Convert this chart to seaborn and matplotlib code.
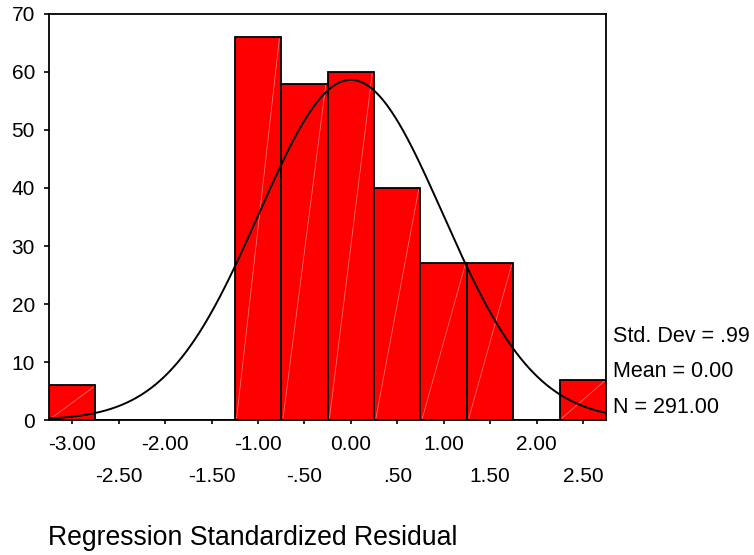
import numpy as np
import pandas as pd
import matplotlib
matplotlib.use("Agg")
import matplotlib.pyplot as plt
import seaborn as sns

# Data
bin_centers = [-3.0, -2.5, -2.0, -1.5, -1.0, -0.5, 0.0, 0.5, 1.0, 1.5, 2.0, 2.5]
counts = [6, 0, 0, 0, 66, 58, 60, 40, 27, 27, 0, 7]
tick_values = [-3.0, -2.5, -2.0, -1.5, -1.0, -0.5, 0.0, 0.5, 1.0, 1.5, 2.0, 2.5]
tick_labels = ["-3.00", "-2.50", "-2.00", "-1.50", "-1.00", "-.50",
               "0.00", ".50", "1.00", "1.50", "2.00", "2.50"]
y_ticks = [0, 10, 20, 30, 40, 50, 60, 70]
stat_sd = 0.99
stat_mean = 0.00
stat_n = 291.00
bin_width = 0.5

sns.set_theme(style="white")
plt.rcParams['font.family'] = ['Liberation Sans', 'DejaVu Sans']
plt.rcParams['text.color'] = 'black'
plt.rcParams['xtick.color'] = 'black'
plt.rcParams['ytick.color'] = 'black'

fig = plt.figure(figsize=(7.54, 5.55), dpi=100)
ax = fig.add_axes([0.065, 0.243, 0.739, 0.732])

df = pd.DataFrame({"x": bin_centers, "w": counts})
sns.histplot(data=df, x="x", weights="w", binwidth=bin_width,
             binrange=(-3.25, 2.75), color="#ff0000", alpha=1.0,
             edgecolor="black", linewidth=1.3, ax=ax)

# faint diagonal seam inside each bar (SPSS rendering look), from bar geometry
for p in list(ax.patches):
    h = p.get_height()
    if h > 0:
        x0 = p.get_x()
        w = p.get_width()
        ax.plot([x0 + 0.02, x0 + w - 0.02], [0.3, h - 0.3], color="#ff8282",
                linewidth=0.5, zorder=p.get_zorder() + 0.1)

xs = np.linspace(-3.25, 2.75, 400)
pdf = stat_n * bin_width / (stat_sd * np.sqrt(2 * np.pi)) * np.exp(-0.5 * ((xs - stat_mean) / stat_sd) ** 2)
sns.lineplot(x=xs, y=pdf, color="black", linewidth=1.4, ax=ax, zorder=5)

ax.set_xlim(-3.25, 2.75)
ax.set_ylim(0, 70)
ax.set_yticks(y_ticks)
ax.set_yticklabels([str(v) for v in y_ticks], fontsize=15)
labels = [lbl if i % 2 == 0 else "\n" + lbl for i, lbl in enumerate(tick_labels)]
ax.set_xticks(tick_values)
ax.set_xticklabels(labels, fontsize=15)
for t in ax.get_xticklabels():
    t.set_linespacing(1.84)
ax.tick_params(axis="both", direction="out", width=1.2, color="black",
               bottom=True, left=True, labelcolor="black")
ax.tick_params(axis="x", length=3, pad=8)
ax.tick_params(axis="y", length=3.6, pad=6.5)
for s in ax.spines.values():
    s.set_color("black")
    s.set_linewidth(1.3)
ax.set_xlabel("")
ax.set_ylabel("")

fig.text(0.813, 0.393, "Std. Dev = .99", fontsize=15.5, va="center", ha="left", color="black")
fig.text(0.813, 0.330, "Mean = 0.00", fontsize=15.5, va="center", ha="left", color="black")
fig.text(0.813, 0.266, "N = 291.00", fontsize=15.5, va="center", ha="left", color="black")
fig.text(0.064, 0.031, "Regression Standardized Residual", fontsize=19.2, va="center", ha="left", color="black")

fig.savefig("out.png", dpi=100)
